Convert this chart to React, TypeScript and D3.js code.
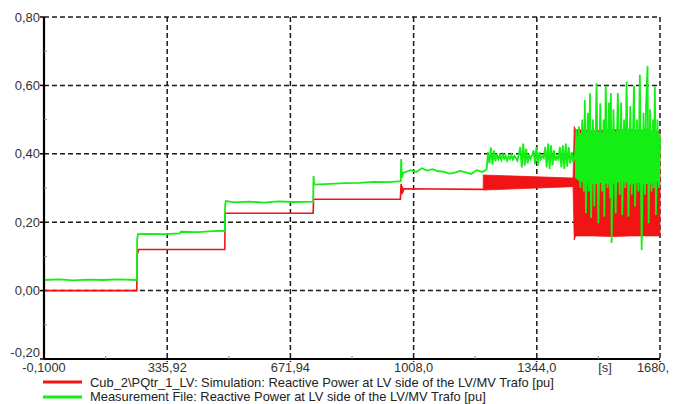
import React from "react";
import * as d3 from "d3";

// ---------- data ----------
const yTickValues = [-0.2, 0, 0.2, 0.4, 0.6, 0.8];
const yTickLabels = ["-0,20", "0,00", "0,20", "0,40", "0,60", "0,80"];
const yMinorTicks = [-0.1, 0.1, 0.3, 0.5, 0.7];
const xTickValues = [-0.1, 335.92, 671.94, 1008.0, 1344.0, 1680.0];
const xTickLabels = ["-0,1000", "335,92", "671,94", "1008,0", "1344,0", "1680,"];
const xMinorTicks = [167.9, 503.9, 840.0, 1176.0, 1512.0];
const xUnitLabel = "[s]";
const xUnitPos = 1530;

const seriesNames = [
  "Cub_2\\PQtr_1_LV: Simulation: Reactive Power at LV side of the LV/MV Trafo [pu]",
  "Measurement File: Reactive Power at LV side of the LV/MV Trafo [pu]",
];

// Simulation (red) – stepped part
const redT = [-0.1, 253, 254, 258, 493, 494, 734, 735, 972, 973, 974, 975, 977, 979, 982, 1198];
const redV = [0, 0, 0.105, 0.12, 0.12, 0.226, 0.226, 0.267, 0.267, 0.296, 0.312, 0.282, 0.305, 0.29, 0.298, 0.296];
// Simulation (red) – converging wedge envelope
const redWedgeT = [1198, 1443];
const redWedgeLo = [0.294, 0.304];
const redWedgeHi = [0.338, 0.329];
// Simulation (red) – oscillation envelope
const redOscT = [1443, 1446, 1450, 1460, 1500, 1550, 1600, 1650, 1680];
const redOscLo = [0.3, 0.148, 0.16, 0.16, 0.16, 0.158, 0.16, 0.16, 0.16];
const redOscHi = [0.33, 0.48, 0.47, 0.47, 0.468, 0.47, 0.47, 0.468, 0.465];

// Measurement (green) – stepped part
const greenT = [-0.1, 40, 80, 120, 160, 200, 253, 254, 256, 290, 330, 371, 373, 420, 460, 493, 494, 496, 520, 560, 600, 640, 680, 734, 735, 737, 780, 820, 860, 900, 940, 973, 974, 976, 980, 1000, 1015, 1030, 1045, 1060, 1075, 1090, 1105, 1120, 1135, 1150, 1165, 1180, 1195, 1207];
const greenV = [0.031, 0.033, 0.03, 0.032, 0.031, 0.033, 0.031, 0.15, 0.165, 0.166, 0.165, 0.167, 0.172, 0.171, 0.174, 0.175, 0.25, 0.262, 0.258, 0.26, 0.257, 0.261, 0.259, 0.26, 0.335, 0.31, 0.312, 0.314, 0.315, 0.318, 0.317, 0.32, 0.385, 0.33, 0.345, 0.352, 0.347, 0.358, 0.351, 0.355, 0.349, 0.348, 0.342, 0.345, 0.35, 0.346, 0.341, 0.352, 0.347, 0.353];
// Measurement (green) – noisy part
const greenNoiseT = [1207, 1211, 1215, 1219, 1223, 1227, 1231, 1235, 1239, 1243, 1247, 1251, 1255, 1259, 1263, 1267, 1271, 1275, 1279, 1283, 1287, 1291, 1295, 1299, 1303, 1307, 1311, 1315, 1319, 1323, 1327, 1331, 1335, 1339, 1343, 1347, 1351, 1355, 1359, 1363, 1367, 1371, 1375, 1379, 1383, 1387, 1391, 1395, 1399, 1403, 1407, 1411, 1415, 1419, 1423, 1427, 1431, 1435, 1439, 1443, 1449];
const greenNoiseV = [0.353, 0.405, 0.372, 0.418, 0.368, 0.41, 0.378, 0.4, 0.384, 0.396, 0.382, 0.398, 0.386, 0.395, 0.38, 0.393, 0.385, 0.397, 0.383, 0.394, 0.388, 0.38, 0.398, 0.42, 0.36, 0.43, 0.365, 0.415, 0.372, 0.398, 0.385, 0.395, 0.41, 0.37, 0.42, 0.366, 0.405, 0.384, 0.394, 0.388, 0.42, 0.36, 0.43, 0.356, 0.425, 0.366, 0.41, 0.38, 0.392, 0.384, 0.42, 0.36, 0.425, 0.356, 0.43, 0.362, 0.42, 0.372, 0.405, 0.375, 0.4];
// Measurement (green) – oscillation core envelope
const greenBandT = [1448, 1460, 1480, 1500, 1520, 1540, 1560, 1580, 1600, 1620, 1640, 1660, 1680];
const greenBandLo = [0.33, 0.32, 0.315, 0.31, 0.315, 0.31, 0.315, 0.32, 0.31, 0.315, 0.31, 0.315, 0.32];
const greenBandHi = [0.44, 0.46, 0.465, 0.47, 0.46, 0.475, 0.465, 0.47, 0.475, 0.465, 0.475, 0.47, 0.46];
// Measurement (green) – oscillation spikes
const greenOscT = [1449, 1452, 1455, 1459, 1463, 1468, 1472, 1475, 1478, 1483, 1486, 1489, 1492, 1497, 1501, 1507, 1512, 1517, 1522, 1526, 1528, 1532, 1537, 1541, 1544, 1546, 1548, 1553, 1559, 1565, 1570, 1574, 1577, 1582, 1585, 1589, 1594, 1599, 1603, 1609, 1612, 1617, 1621, 1625, 1630, 1635, 1639, 1642, 1646, 1649, 1653, 1657, 1661, 1663, 1666, 1669, 1673, 1677, 1680];
const greenOscV = [0.4, 0.47, 0.33, 0.48, 0.3, 0.5, 0.29, 0.557, 0.226, 0.52, 0.29, 0.577, 0.212, 0.5, 0.246, 0.606, 0.197, 0.548, 0.29, 0.5, 0.216, 0.599, 0.3, 0.55, 0.27, 0.578, 0.139, 0.53, 0.226, 0.578, 0.28, 0.55, 0.221, 0.5, 0.3, 0.611, 0.216, 0.54, 0.28, 0.599, 0.246, 0.5, 0.29, 0.631, 0.119, 0.52, 0.28, 0.54, 0.657, 0.197, 0.53, 0.29, 0.5, 0.3, 0.595, 0.221, 0.5, 0.3, 0.45];

// ---------- styling ----------
const W = 673;
const H = 404;
const RED = "#f01414";
const GREEN = "#14ee14";
const FONT = "'Liberation Sans', Arial, sans-serif";

const zip = (t: number[], v: number[]) => t.map((tt, i) => [tt, v[i]] as [number, number]);
const zip3 = (t: number[], lo: number[], hi: number[]) =>
  t.map((tt, i) => [tt, lo[i], hi[i]] as [number, number, number]);

export default function App() {
  const x = d3.scaleLinear().domain([-0.1, 1680]).range([44, 660]);
  const y = d3.scaleLinear().domain([-0.2, 0.8]).range([359, 17]);

  const line = d3
    .line<[number, number]>()
    .x((d) => x(d[0]))
    .y((d) => y(d[1]));
  const area = d3
    .area<[number, number, number]>()
    .x((d) => x(d[0]))
    .y0((d) => y(d[1]))
    .y1((d) => y(d[2]));

  const x0 = x(-0.1);
  const x1 = x(1680);
  const yTop = y(0.8);
  const yBot = y(-0.2);

  return (
    <div style={{ position: "absolute", left: 0, top: 0 }}>
      <svg width={W} height={H} style={{ display: "block", background: "#fff" }}>
        {/* grid */}
        {yTickValues
          .filter((v) => v > -0.2)
          .map((v) => (
            <line
              key={"gy" + v}
              x1={x0}
              x2={x1}
              y1={y(v)}
              y2={y(v)}
              stroke="#1a1a1a"
              strokeWidth={1.5}
              strokeDasharray="5,3"
            />
          ))}
        {xTickValues
          .filter((v) => v > 0)
          .map((v) => (
            <line
              key={"gx" + v}
              x1={x(v)}
              x2={x(v)}
              y1={yTop}
              y2={yBot + 3}
              stroke="#1a1a1a"
              strokeWidth={1.5}
              strokeDasharray="5,3"
            />
          ))}

        {/* simulation (red) */}
        <path d={line(zip(redT, redV)) || ""} fill="none" stroke={RED} strokeWidth={1.6} />
        <path d={area(zip3(redWedgeT, redWedgeLo, redWedgeHi)) || ""} fill={RED} stroke={RED} strokeWidth={0.8} />
        <path d={area(zip3(redOscT, redOscLo, redOscHi)) || ""} fill={RED} stroke={RED} strokeWidth={0.8} />

        {/* measurement (green) */}
        <path d={line(zip(greenT, greenV)) || ""} fill="none" stroke={GREEN} strokeWidth={1.8} />
        <path d={line(zip(greenNoiseT, greenNoiseV)) || ""} fill="none" stroke={GREEN} strokeWidth={1.8} />
        <path d={area(zip3(greenBandT, greenBandLo, greenBandHi)) || ""} fill={GREEN} stroke="none" />
        <path d={line(zip(greenOscT, greenOscV)) || ""} fill="none" stroke={GREEN} strokeWidth={1.8} />

        {/* axes */}
        <line x1={x0} x2={x0} y1={yTop} y2={yBot} stroke="#000" strokeWidth={2.2} />
        <line x1={x0} x2={x1} y1={yBot} y2={yBot} stroke="#000" strokeWidth={2.2} />
        {yTickValues.map((v) => (
          <line key={"ty" + v} x1={x0 - 4} x2={x0} y1={y(v)} y2={y(v)} stroke="#000" strokeWidth={1.5} />
        ))}
        {yMinorTicks.map((v) => (
          <line key={"my" + v} x1={x0} x2={x0 + 3} y1={y(v)} y2={y(v)} stroke="#888" strokeWidth={1} />
        ))}
        {xMinorTicks.map((v) => (
          <line key={"mx" + v} x1={x(v)} x2={x(v)} y1={yBot - 3} y2={yBot} stroke="#888" strokeWidth={1} />
        ))}

        {/* tick labels */}
        {yTickValues.map((v, i) => (
          <text
            key={"ly" + v}
            x={x0 - 4}
            y={y(v) + (i === 0 ? -2 : 4.5)}
            textAnchor="end"
            fontFamily={FONT}
            fontSize={13}
            fill="#333"
          >
            {yTickLabels[i]}
          </text>
        ))}
        {xTickValues.map((v, i) => (
          <text
            key={"lx" + v}
            x={i === xTickValues.length - 1 ? x(v) - 23 : x(v)}
            y={yBot + 12.5}
            textAnchor={i === xTickValues.length - 1 ? "start" : "middle"}
            fontFamily={FONT}
            fontSize={12.8}
            fill="#333"
          >
            {xTickLabels[i]}
          </text>
        ))}
        <text x={x(xUnitPos)} y={yBot + 12.5} textAnchor="middle" fontFamily={FONT} fontSize={12.8} fill="#333">
          {xUnitLabel}
        </text>

        {/* legend */}
        <line x1={43} x2={82} y1={382} y2={382} stroke={RED} strokeWidth={3} />
        <text x={90} y={386.5} fontFamily={FONT} fontSize={12.9} fill="#222">
          {seriesNames[0]}
        </text>
        <line x1={43} x2={82} y1={397} y2={397} stroke={GREEN} strokeWidth={3} />
        <text x={90} y={401.3} fontFamily={FONT} fontSize={12.9} fill="#222">
          {seriesNames[1]}
        </text>
      </svg>
    </div>
  );
}
